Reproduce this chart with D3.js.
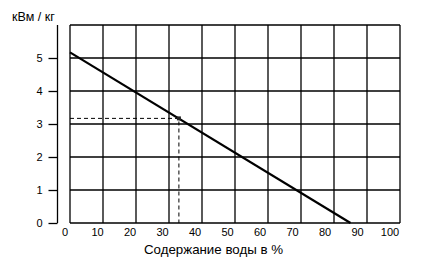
<!DOCTYPE html>
<html>
<head>
<meta charset="utf-8">
<script src="https://cdn.jsdelivr.net/npm/d3@7"></script>
<style>
  body { margin: 0; background: #fff; }
  text { font-family: "Liberation Sans", Arial, sans-serif; fill: #000; }
</style>
</head>
<body>
<div id="chart"></div>
<script>
const WIDTH = 429;
const HEIGHT = 265;

// data
const xTicks = [0, 10, 20, 30, 40, 50, 60, 70, 80, 90, 100];
const yTicks = [0, 1, 2, 3, 4, 5];
const yGrid = [0, 1, 2, 3, 4, 5, 6];
const lineX = [0, 85];
const lineY = [5.17, 0];
const markX = 33;
const markY = 3.17;

const svg = d3.select('#chart')
    .append('svg')
    .attr('width', WIDTH)
    .attr('height', HEIGHT);

const x = d3.scaleLinear().domain([0, 100]).range([70, 400]);
const y = d3.scaleLinear().domain([0, 6]).range([223, 25]);
// tick labels in the original drift a little to the left of the grid
const xLabel = d3.scaleLinear().domain([0, 100]).range([65, 390]);

// Grid
svg.append('g')
    .selectAll('line')
    .data(xTicks)
    .join('line')
    .attr('x1', d => x(d)).attr('x2', d => x(d))
    .attr('y1', y(0)).attr('y2', y(6))
    .attr('stroke', '#000')
    .attr('stroke-width', 1.3);

svg.append('g')
    .selectAll('line')
    .data(yGrid)
    .join('line')
    .attr('x1', x(0)).attr('x2', x(100))
    .attr('y1', d => y(d)).attr('y2', d => y(d))
    .attr('stroke', '#000')
    .attr('stroke-width', 1.3);

// Y axis, drawn apart from the grid
const yAxis = svg.append('g')
    .attr('transform', 'translate(57.5,0)')
    .call(d3.axisLeft(y)
        .tickValues(yTicks)
        .tickSize(9)
        .tickPadding(6)
        .tickFormat(d3.format('d')));
yAxis.select('.domain')
    .attr('d', `M0,${y(0)}V${y(6)}`)
    .attr('stroke-width', 1.3);
yAxis.selectAll('.tick line').attr('stroke-width', 1.3);
yAxis.selectAll('text')
    .style('font-size', '11px')
    .style('font-family', '"Liberation Sans", Arial, sans-serif');

// X tick labels
svg.append('g')
    .selectAll('text')
    .data(xTicks)
    .join('text')
    .attr('x', d => xLabel(d))
    .attr('y', 236)
    .attr('text-anchor', 'middle')
    .style('font-size', '11px')
    .text(d => d);

// Dashed guides
svg.append('path')
    .attr('d', `M${x(0)},${y(markY)}H${x(markX)}V${y(0)}`)
    .attr('fill', 'none')
    .attr('stroke', '#000')
    .attr('stroke-width', 1)
    .attr('stroke-dasharray', '4,3');

// Main line
const line = d3.line()
    .x(d => x(d[0]))
    .y(d => y(d[1]));

svg.append('path')
    .datum(lineX.map((v, i) => [v, lineY[i]]))
    .attr('d', line)
    .attr('fill', 'none')
    .attr('stroke', '#000')
    .attr('stroke-width', 2.2);

svg.append('rect')
    .attr('x', x(markX) - 2)
    .attr('y', y(markY) - 2)
    .attr('width', 4)
    .attr('height', 4)
    .attr('fill', '#222');

// Titles
svg.append('text')
    .attr('x', 12)
    .attr('y', 21)
    .style('font-size', '12.5px')
    .text('кВм / кг');

svg.append('text')
    .attr('x', 213.5)
    .attr('y', 254)
    .attr('text-anchor', 'middle')
    .style('font-size', '13.3px')
    .text('Содержание воды в %');
</script>
</body>
</html>
